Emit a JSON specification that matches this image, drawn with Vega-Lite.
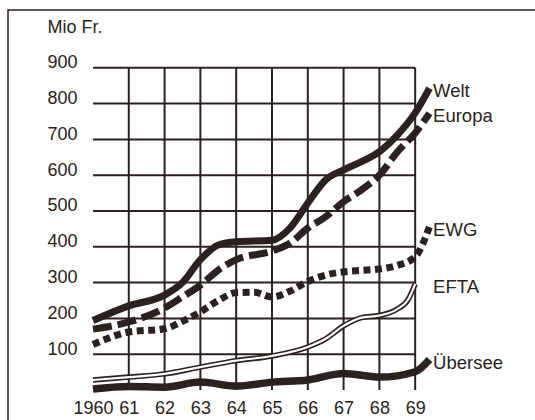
{
  "$schema": "https://vega.github.io/schema/vega-lite/v6.json",
  "width": 540,
  "height": 420,
  "autosize": {"type": "none"},
  "padding": {"left": 8, "top": 10, "right": 0, "bottom": 0},
  "background": "white",
  "config": {
    "view": {"stroke": "#2b2220", "strokeWidth": 1.5},
    "font": "Liberation Sans",
    "axis": {"labelFont": "Liberation Sans", "titleFont": "Liberation Sans", "labelColor": "#2b2220", "titleColor": "#2b2220"}
  },
  "datasets": {
    "series": [
      {"series": "Welt", "year": 1960, "value": 194},
      {"series": "Welt", "year": 1961, "value": 235},
      {"series": "Welt", "year": 1962, "value": 265},
      {"series": "Welt", "year": 1962.5, "value": 300},
      {"series": "Welt", "year": 1963, "value": 364},
      {"series": "Welt", "year": 1963.5, "value": 405},
      {"series": "Welt", "year": 1964, "value": 414},
      {"series": "Welt", "year": 1965, "value": 418},
      {"series": "Welt", "year": 1965.5, "value": 452},
      {"series": "Welt", "year": 1966, "value": 522},
      {"series": "Welt", "year": 1966.5, "value": 587},
      {"series": "Welt", "year": 1967, "value": 615},
      {"series": "Welt", "year": 1967.5, "value": 638},
      {"series": "Welt", "year": 1968, "value": 666},
      {"series": "Welt", "year": 1968.5, "value": 712},
      {"series": "Welt", "year": 1969, "value": 774},
      {"series": "Welt", "year": 1969.4, "value": 843},
      {"series": "Europa", "year": 1960, "value": 170},
      {"series": "Europa", "year": 1961, "value": 190},
      {"series": "Europa", "year": 1962, "value": 229},
      {"series": "Europa", "year": 1962.5, "value": 260},
      {"series": "Europa", "year": 1963, "value": 293},
      {"series": "Europa", "year": 1963.5, "value": 335},
      {"series": "Europa", "year": 1964, "value": 364},
      {"series": "Europa", "year": 1965, "value": 388},
      {"series": "Europa", "year": 1965.5, "value": 410},
      {"series": "Europa", "year": 1966, "value": 452},
      {"series": "Europa", "year": 1966.5, "value": 484},
      {"series": "Europa", "year": 1967, "value": 526},
      {"series": "Europa", "year": 1967.5, "value": 559},
      {"series": "Europa", "year": 1968, "value": 600},
      {"series": "Europa", "year": 1968.5, "value": 665},
      {"series": "Europa", "year": 1969, "value": 718},
      {"series": "Europa", "year": 1969.4, "value": 773},
      {"series": "EWG", "year": 1960, "value": 127},
      {"series": "EWG", "year": 1961, "value": 162},
      {"series": "EWG", "year": 1962, "value": 171},
      {"series": "EWG", "year": 1962.5, "value": 192},
      {"series": "EWG", "year": 1963, "value": 218},
      {"series": "EWG", "year": 1963.5, "value": 250},
      {"series": "EWG", "year": 1964, "value": 272},
      {"series": "EWG", "year": 1964.5, "value": 273},
      {"series": "EWG", "year": 1965, "value": 260},
      {"series": "EWG", "year": 1965.5, "value": 276},
      {"series": "EWG", "year": 1966, "value": 303},
      {"series": "EWG", "year": 1966.5, "value": 321},
      {"series": "EWG", "year": 1967, "value": 330},
      {"series": "EWG", "year": 1967.5, "value": 334},
      {"series": "EWG", "year": 1968, "value": 338},
      {"series": "EWG", "year": 1968.5, "value": 348},
      {"series": "EWG", "year": 1969, "value": 372},
      {"series": "EWG", "year": 1969.4, "value": 456},
      {"series": "EFTA", "year": 1960, "value": 28},
      {"series": "EFTA", "year": 1961, "value": 36},
      {"series": "EFTA", "year": 1962, "value": 45},
      {"series": "EFTA", "year": 1963, "value": 64},
      {"series": "EFTA", "year": 1964, "value": 82},
      {"series": "EFTA", "year": 1965, "value": 95},
      {"series": "EFTA", "year": 1966, "value": 120},
      {"series": "EFTA", "year": 1966.5, "value": 143},
      {"series": "EFTA", "year": 1967, "value": 179},
      {"series": "EFTA", "year": 1967.5, "value": 202},
      {"series": "EFTA", "year": 1968, "value": 208},
      {"series": "EFTA", "year": 1968.5, "value": 226},
      {"series": "EFTA", "year": 1968.8, "value": 252},
      {"series": "EFTA", "year": 1969, "value": 296},
      {"series": "Übersee", "year": 1960, "value": 3},
      {"series": "Übersee", "year": 1961, "value": 10},
      {"series": "Übersee", "year": 1962, "value": 8},
      {"series": "Übersee", "year": 1963, "value": 22},
      {"series": "Übersee", "year": 1964, "value": 11},
      {"series": "Übersee", "year": 1965, "value": 22},
      {"series": "Übersee", "year": 1966, "value": 28},
      {"series": "Übersee", "year": 1967, "value": 46},
      {"series": "Übersee", "year": 1968, "value": 36},
      {"series": "Übersee", "year": 1969, "value": 51},
      {"series": "Übersee", "year": 1969.4, "value": 85}
    ],
    "hgrid": [{"v": 100}, {"v": 200}, {"v": 300}, {"v": 400}, {"v": 500}, {"v": 600}, {"v": 700}, {"v": 800}, {"v": 900}],
    "vgrid": [{"yr": 1961}, {"yr": 1962}, {"yr": 1963}, {"yr": 1964}, {"yr": 1965}, {"yr": 1966}, {"yr": 1967}, {"yr": 1968}, {"yr": 1969}]
  },
  "layer": [
    {
      "data": {"name": "hgrid"},
      "mark": {"type": "rule", "color": "#2b2220", "strokeWidth": 2},
      "encoding": {
        "y": {
          "field": "v", "type": "quantitative",
          "scale": {"domain": [-111.73, 1061.45], "nice": false, "zero": false},
          "axis": {
            "values": [100, 200, 300, 400, 500, 600, 700, 800, 900],
            "format": "d", "domain": false, "ticks": false, "grid": false,
            "offset": -85, "labelPadding": 16, "labelFontSize": 18, "labelOffset": -5,
            "title": "Mio Fr.", "titleAngle": 0, "titleX": -46, "titleY": 22,
            "titleAlign": "left", "titleBaseline": "alphabetic", "titleFontSize": 18, "titleFontWeight": "normal"
          }
        },
        "x": {"datum": 1960, "type": "quantitative", "scale": {"domain": [1957.626, 1972.71], "nice": false, "zero": false}},
        "x2": {"datum": 1969}
      }
    },
    {
      "data": {"name": "vgrid"},
      "mark": {"type": "rule", "color": "#2b2220", "strokeWidth": 2},
      "encoding": {
        "x": {
          "field": "yr", "type": "quantitative",
          "scale": {"domain": [1957.626, 1972.71], "nice": false, "zero": false},
          "axis": {
            "values": [1960, 1961, 1962, 1963, 1964, 1965, 1966, 1967, 1968, 1969],
            "labelExpr": "datum.value == 1960 ? '1960' : slice(format(datum.value, 'd'), 2)",
            "domain": false, "ticks": false, "grid": false,
            "offset": -40, "labelPadding": 9, "labelFontSize": 18, "title": null
          }
        },
        "y": {"datum": 0, "type": "quantitative", "scale": {"domain": [-111.73, 1061.45], "nice": false, "zero": false}},
        "y2": {"datum": 900}
      }
    },
    {
      "mark": {"type": "rule", "color": "#2b2220", "strokeWidth": 2.5},
      "encoding": {
        "x": {"datum": 1960, "type": "quantitative"},
        "y": {"datum": 0, "type": "quantitative"},
        "y2": {"datum": 992}
      }
    },
    {
      "mark": {"type": "rule", "color": "#2b2220", "strokeWidth": 2.5},
      "encoding": {
        "y": {"datum": 0, "type": "quantitative"},
        "x": {"datum": 1960, "type": "quantitative"},
        "x2": {"datum": 1971.5}
      }
    },
    {
      "data": {"name": "series"},
      "transform": [{"filter": "datum.series == 'Europa'"}],
      "mark": {"type": "line", "color": "#2b2220", "strokeWidth": 7, "strokeDash": [19, 6], "strokeCap": "butt", "interpolate": "monotone"},
      "encoding": {
        "x": {"field": "year", "type": "quantitative"},
        "y": {"field": "value", "type": "quantitative"}
      }
    },
    {
      "data": {"name": "series"},
      "transform": [{"filter": "datum.series == 'Welt'"}],
      "mark": {"type": "line", "color": "#2b2220", "strokeWidth": 7, "interpolate": "monotone"},
      "encoding": {
        "x": {"field": "year", "type": "quantitative"},
        "y": {"field": "value", "type": "quantitative"}
      }
    },
    {
      "data": {"name": "series"},
      "transform": [{"filter": "datum.series == 'EWG'"}],
      "mark": {"type": "line", "color": "#2b2220", "strokeWidth": 7, "strokeDash": [7, 4.5], "strokeCap": "butt", "interpolate": "monotone"},
      "encoding": {
        "x": {"field": "year", "type": "quantitative"},
        "y": {"field": "value", "type": "quantitative"}
      }
    },
    {
      "data": {"name": "series"},
      "transform": [{"filter": "datum.series == 'EFTA'"}],
      "mark": {"type": "line", "color": "#2b2220", "strokeWidth": 5.5, "interpolate": "monotone"},
      "encoding": {
        "x": {"field": "year", "type": "quantitative"},
        "y": {"field": "value", "type": "quantitative"}
      }
    },
    {
      "data": {"name": "series"},
      "transform": [{"filter": "datum.series == 'EFTA'"}],
      "mark": {"type": "line", "color": "white", "strokeWidth": 2.2, "interpolate": "monotone"},
      "encoding": {
        "x": {"field": "year", "type": "quantitative"},
        "y": {"field": "value", "type": "quantitative"}
      }
    },
    {
      "data": {"name": "series"},
      "transform": [{"filter": "datum.series == 'Übersee'"}],
      "mark": {"type": "line", "color": "#2b2220", "strokeWidth": 7.5, "interpolate": "monotone"},
      "encoding": {
        "x": {"field": "year", "type": "quantitative"},
        "y": {"field": "value", "type": "quantitative"}
      }
    },
    {
      "data": {"name": "series"},
      "transform": [
        {"window": [{"op": "row_number", "as": "rk"}], "sort": [{"field": "year", "order": "descending"}], "groupby": ["series"]},
        {"filter": "datum.rk == 1"}
      ],
      "mark": {"type": "text", "align": "left", "baseline": "middle", "fontSize": 18.5, "font": "Liberation Sans", "color": "#2b2220", "dy": 3},
      "encoding": {
        "x": {"datum": 1969.5, "type": "quantitative"},
        "y": {"field": "value", "type": "quantitative"},
        "text": {"field": "series"}
      }
    }
  ]
}
